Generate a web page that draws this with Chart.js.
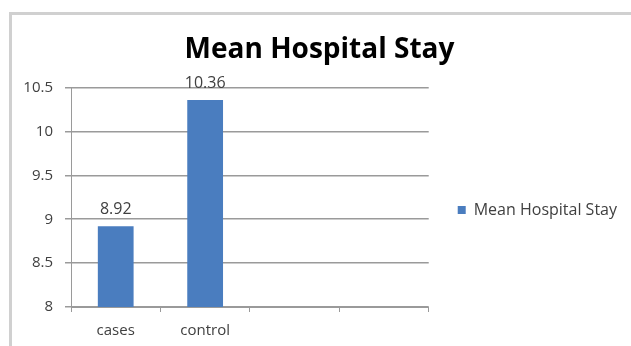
<!DOCTYPE html>
<html>
<head>
<meta charset="utf-8">
<title>Mean Hospital Stay</title>
<script src="https://cdn.jsdelivr.net/npm/chart.js@4"></script>
<style>
  html, body { margin: 0; padding: 0; background: #fff; overflow: hidden; }
  body { width: 631px; height: 346px; position: relative; }
  /* grey chart frame, cut off at the right and bottom like the screenshot */
  .frame {
    position: absolute; left: 9px; top: 12px; width: 700px; height: 400px;
    border-left: 3px solid #d0d0d0; border-top: 3px solid #d0d0d0;
  }
  .wrap { position: absolute; left: 12px; top: 0; width: 619px; height: 346px; }
</style>
</head>
<body>
<div class="frame"></div>
<div class="wrap"><canvas id="stayChart"></canvas></div>
<script>
// data
const groups = ['cases', 'control', '', ''];
const hospitalStay = [8.92, 10.36, null, null];
const yTicks = [8, 8.5, 9, 9.5, 10, 10.5];

const textGrey = '#404040';
const lineGrey = '#9a9a9a';

/* value labels above the bars */
const barValueLabels = {
  id: 'barValueLabels',
  afterDatasetsDraw(chart) {
    const ctx = chart.ctx;
    ctx.save();
    ctx.font = '16px "Open Sans"';
    ctx.fillStyle = textGrey;
    ctx.textAlign = 'center';
    ctx.textBaseline = 'alphabetic';
    chart.getDatasetMeta(0).data.forEach((bar, i) => {
      const v = hospitalStay[i];
      if (v == null) return;
      ctx.fillText(v.toFixed(2), bar.x, bar.y - 12);
    });
    ctx.restore();
  }
};

new Chart(
  document.getElementById('stayChart'),
  {
    type: 'bar',
    data: {
      labels: groups,
      datasets: [
        {
          label: 'Mean Hospital Stay',
          data: hospitalStay,
          backgroundColor: '#4a7dbf',
          barPercentage: 0.4,
          categoryPercentage: 1.0
        }
      ]
    },
    options: {
      responsive: true,
      maintainAspectRatio: false,
      animation: false,
      layout: { padding: { left: 0, right: 4, top: 0, bottom: 0 } },
      scales: {
        x: {
          afterFit: s => { s.height = 39; },
          grid: { offset: true, drawOnChartArea: false, drawTicks: true, tickLength: 5, color: lineGrey },
          border: { color: lineGrey },
          ticks: { color: textGrey, padding: 10, font: { family: 'Open Sans', size: 15 } }
        },
        y: {
          min: yTicks[0],
          max: yTicks[yTicks.length - 1],
          afterBuildTicks: s => { s.ticks = yTicks.map(v => ({ value: v })); },
          afterFit: s => { s.width = 59; },
          grid: { color: lineGrey, lineWidth: 1.5, tickLength: 6 },
          border: { color: lineGrey },
          ticks: {
            color: textGrey,
            padding: 12,
            font: { family: 'Open Sans', size: 15 },
            callback: v => String(v)
          }
        }
      },
      plugins: {
        title: {
          display: true,
          text: 'Mean Hospital Stay',
          color: '#000',
          font: { family: 'Open Sans', size: 28, weight: 'bold' },
          padding: { top: 33, bottom: 21 }
        },
        legend: {
          position: 'right',
          fullSize: false,
          maxWidth: 220,
          // empty legend title only pushes the entry a little below the middle
          title: { display: true, text: '', padding: { top: 11, bottom: 0 } },
          labels: {
            color: textGrey,
            boxWidth: 8,
            boxHeight: 8,
            padding: 29,
            font: { family: 'Open Sans', size: 16 }
          }
        },
        tooltip: { enabled: false }
      }
    },
    plugins: [barValueLabels]
  }
);
</script>
</body>
</html>
